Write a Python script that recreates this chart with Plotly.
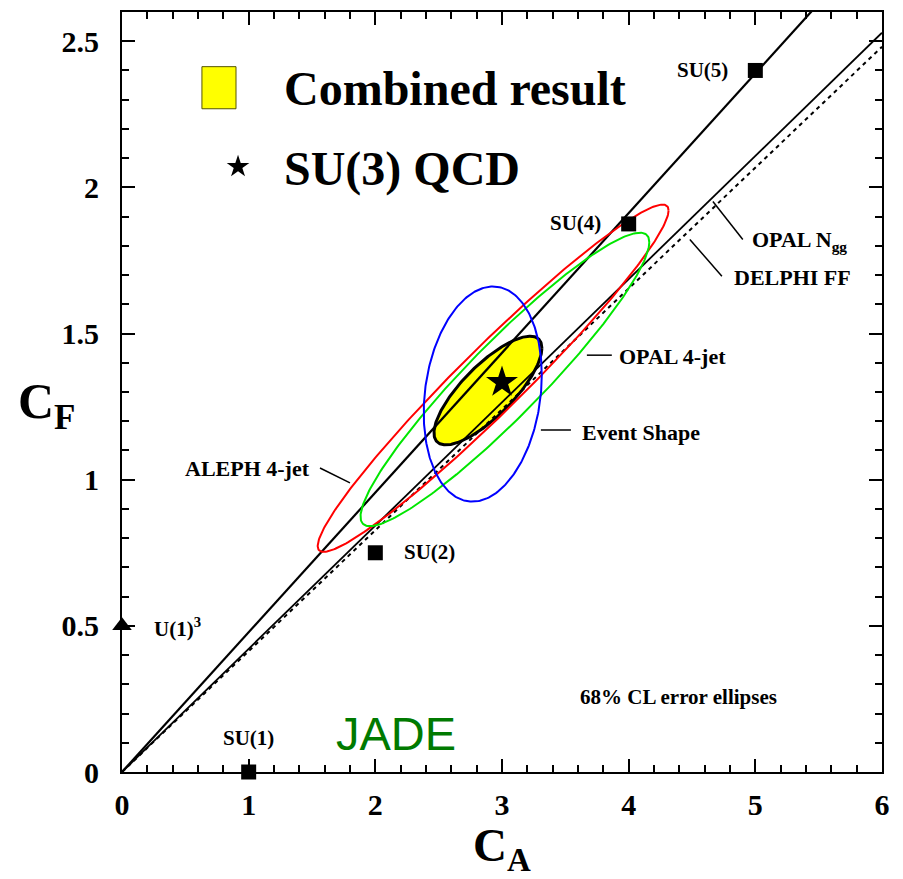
import numpy as np
import plotly.graph_objects as go

# ---------------- data ----------------
# lines through origin: C_F = slope * C_A
line_names = ["ratio line", "OPAL N_gg", "DELPHI FF"]
line_slopes = [0.478, 0.4215, 0.4135]
line_dash = ["solid", "solid", "dash"]
line_width = [2.2, 1.8, 2.0]

# error ellipses: centre, sigma_x, sigma_y, correlation
ell_names = ["Combined", "ALEPH 4-jet", "OPAL 4-jet", "Event Shape"]
ell_cx = [2.889, 2.930, 3.023, 2.848]
ell_cy = [1.305, 1.347, 1.343, 1.293]
ell_sx = [0.426, 1.385, 1.140, 0.466]
ell_sy = [0.186, 0.594, 0.502, 0.368]
ell_rho = [0.78, 0.966, 0.935, 0.175]
ell_color = ["black", "#ff0000", "#00e600", "#0000ff"]

# gauge groups
grp_labels = ["SU(1)", "SU(2)", "SU(4)", "SU(5)"]
grp_ca = [1, 2, 4, 5]
grp_cf = [0.0, 0.75, 1.875, 2.4]
u1_ca = [0]
u1_cf = [0.5]
su3_ca = [3]
su3_cf = [4.0 / 3.0]

xtick_vals = [0, 1, 2, 3, 4, 5, 6]
ytick_vals = [0, 0.5, 1, 1.5, 2, 2.5]
ytick_text = ["0", "0.5", "1", "1.5", "2", "2.5"]

FONT = "Liberation Serif"

fig = go.Figure()

t = np.linspace(0, 2 * np.pi, 300)


def ellipse(i):
    x = ell_cx[i] + ell_sx[i] * np.cos(t)
    y = ell_cy[i] + ell_sy[i] * (ell_rho[i] * np.cos(t) + np.sqrt(1 - ell_rho[i] ** 2) * np.sin(t))
    return x, y


# combined (filled)
x, y = ellipse(0)
fig.add_trace(go.Scatter(x=x, y=y, mode="lines", fill="toself", fillcolor="#ffff00",
                         line=dict(color="black", width=3), showlegend=False, hoverinfo="skip"))

# lines through origin
for s, d, w in zip(line_slopes, line_dash, line_width):
    xs = [0, 6]
    fig.add_trace(go.Scatter(x=xs, y=[s * v for v in xs], mode="lines",
                             line=dict(color="black", width=w, dash=d if d == "solid" else "4px,4px"),
                             showlegend=False, hoverinfo="skip"))

# other ellipses
for i in [1, 2, 3]:
    x, y = ellipse(i)
    fig.add_trace(go.Scatter(x=x, y=y, mode="lines", line=dict(color=ell_color[i], width=2),
                             showlegend=False, hoverinfo="skip"))

# markers
fig.add_trace(go.Scatter(x=grp_ca, y=grp_cf, mode="markers",
                         marker=dict(symbol="square", size=15, color="black"),
                         cliponaxis=False, showlegend=False))
fig.add_trace(go.Scatter(x=u1_ca, y=u1_cf, mode="markers",
                         marker=dict(symbol="triangle-up", size=17, color="black"),
                         cliponaxis=False, showlegend=False))
fig.add_trace(go.Scatter(x=su3_ca, y=su3_cf, mode="markers",
                         marker=dict(symbol="star", size=24, color="black", line=dict(width=0)),
                         cliponaxis=False, showlegend=False))
# legend star
fig.add_trace(go.Scatter(x=[0.916], y=[2.071], mode="markers",
                         marker=dict(symbol="star", size=17, color="black", line=dict(width=0)),
                         showlegend=False))

ann = []


def txt(x, y, s, size=22, xanchor="left", color="black", family=FONT):
    ann.append(dict(x=x, y=y, xref="x", yref="y", text=s, showarrow=False, xanchor=xanchor,
                    yanchor="middle", font=dict(family=family, size=size, color=color)))


def bold(s):
    return "<b>" + s + "</b>"


# group labels
txt(0.995, 0.115, bold("SU(1)"), 21, "center")
txt(2.21, 0.754, bold("SU(2)"), 21)
txt(3.80, 1.877, bold("SU(4)"), 21, "right")
txt(4.80, 2.402, bold("SU(5)"), 21, "right")
txt(0.237, 0.494, bold("U(1)<sup>3</sup>"), 21)

# measurement labels
txt(1.50, 1.037, bold("ALEPH 4-jet"), 22, "right")
txt(3.615, 1.163, bold("Event Shape"), 22)
txt(3.907, 1.4225, bold("OPAL 4-jet"), 22)
txt(4.957, 1.815, bold("OPAL N<sub>gg</sub>"), 22)
txt(4.815, 1.692, bold("DELPHI FF"), 22)
txt(3.60, 0.258, bold("68% CL error ellipses"), 21)
txt(2.163, 0.132, "JADE", 47, "center", "#007a00", "Liberation Sans")

# legend texts
txt(1.263, 2.337, bold("Combined result"), 48)
txt(1.263, 2.064, bold("SU(3) QCD"), 48)

# axis titles
ann.append(dict(x=-0.099, y=0.483, xref="paper", yref="paper", showarrow=False,
                xanchor="center", yanchor="middle",
                text="<b>C<sub>F</sub></b>", font=dict(family=FONT, size=50, color="black")))
ann.append(dict(x=0.50, y=-0.100, xref="paper", yref="paper", showarrow=False,
                xanchor="center", yanchor="middle",
                text="<b>C<sub>A</sub></b>", font=dict(family=FONT, size=47, color="black")))

shapes = []
# pointer lines
pointers = [
    (1.563, 1.040, 1.80, 0.989),
    (3.307, 1.170, 3.544, 1.170),
    (3.67, 1.426, 3.867, 1.426),
    (4.665, 1.952, 4.901, 1.822),
    (4.483, 1.822, 4.736, 1.696),
]
for x0, y0, x1, y1 in pointers:
    shapes.append(dict(type="line", x0=x0, y0=y0, x1=x1, y1=y1, xref="x", yref="y",
                       line=dict(color="black", width=1.5)))
# legend box
shapes.append(dict(type="rect", x0=0.631, x1=0.900, y0=2.269, y1=2.413, xref="x", yref="y",
                   fillcolor="#ffff00", line=dict(color="#555500", width=1)))

axis_common = dict(showgrid=False, zeroline=False, showline=True, linecolor="black", linewidth=2,
                   mirror="ticks", ticks="inside", ticklen=13, tickwidth=2, tickcolor="black",
                   tickfont=dict(family=FONT, size=30, color="black"))

fig.update_xaxes(range=[0, 6], tickvals=xtick_vals, ticktext=["<b>%d</b>" % v for v in xtick_vals],
                 minor=dict(dtick=0.2, ticks="inside", ticklen=7, tickwidth=1.5, tickcolor="black"),
                 ticklabelstandoff=5, **axis_common)
fig.update_yaxes(range=[0, 2.6], tickvals=ytick_vals, ticktext=["<b>%s</b>" % s for s in ytick_text],
                 minor=dict(dtick=0.1, ticks="inside", ticklen=7, tickwidth=1.5, tickcolor="black"),
                 ticklabelstandoff=15, **axis_common)

# page body adds an 8px offset; size the figure so the plot frame lands where the reference has it
fig.update_layout(width=895, height=871, margin=dict(l=114, r=21, t=2, b=107),
                  plot_bgcolor="white", paper_bgcolor="white", annotations=ann, shapes=shapes,
                  showlegend=False)

fig.write_html("out.html")
